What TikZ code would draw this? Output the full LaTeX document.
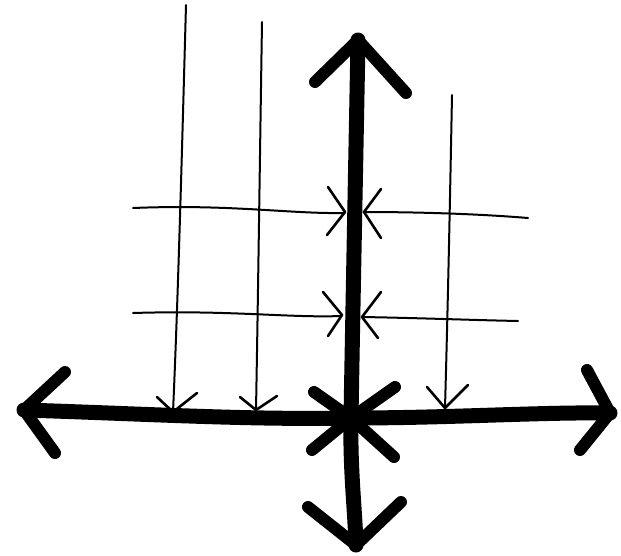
\documentclass[tikz,border=0pt]{standalone}
\begin{document}
\begin{tikzpicture}[x=1pt,y=-1pt,
  axis/.style={line width=15pt,line cap=round,line join=round},
  axhead/.style={line width=12pt,line cap=round,line join=round},
  thin/.style={line width=2pt,line cap=round},
  thinhead/.style={line width=2.6pt,line cap=round,line join=round}]
\useasboundingbox (0,0) rectangle (621,555);
% coordinates
\coordinate (hl) at (24,410);
\coordinate (hr) at (610,413);
\coordinate (vt) at (358,40);
\coordinate (vb) at (356,545);
\coordinate (o) at (351,418);
% thin horizontal lines
\draw[thin] (133,208) .. controls (230,204) and (290,214) .. (344,213);
\draw[thin] (364,212) .. controls (420,212) and (480,214) .. (528,218);
\draw[thin] (133,313) .. controls (230,310) and (290,318) .. (341,316);
\draw[thin] (362,317) .. controls (420,318) and (470,320) .. (518,321);
% small arrowheads at axis
\draw[thinhead] (328,187) -- (345,212) -- (327,235);
\draw[thinhead] (381,189) -- (364,212) -- (381,238);
\draw[thinhead] (323,292) -- (342,315) -- (328,336);
\draw[thinhead] (381,292) -- (362,317) -- (378,338);
% thin vertical lines
\draw[thin] (186,5) .. controls (182,150) and (178,300) .. (173,412);
\draw[thin] (262,22) .. controls (260,150) and (258,300) .. (256,410);
\draw[thin] (452,95) .. controls (450,200) and (448,300) .. (445,408);
\draw[thinhead] (157,397) -- (173,412) -- (197,393);
\draw[thinhead] (240,397) -- (256,410) -- (277,396);
\draw[thinhead] (427,387) -- (445,408) -- (468,385);
% horizontal axis
\draw[axis] (hl) .. controls (150,414) and (250,420) .. (o) .. controls (450,418) and (540,412) .. (hr);
\draw[axhead] (65,372) -- (hl) -- (55,453);
\draw[axhead] (587,370) -- (hr) -- (580,450);
% vertical axis
\draw[axis] (vt) .. controls (356,150) and (353,300) .. (o) .. controls (350,470) and (355,510) .. (vb);
\draw[axhead] (315,82) -- (vt) -- (406,93);
\draw[axhead] (308,507) -- (vb) -- (401,502);
% origin cross
\draw[axhead] (314,392) -- (o) -- (312,450);
\draw[axhead] (395,387) -- (o) -- (394,457);
\end{tikzpicture}
\end{document}
